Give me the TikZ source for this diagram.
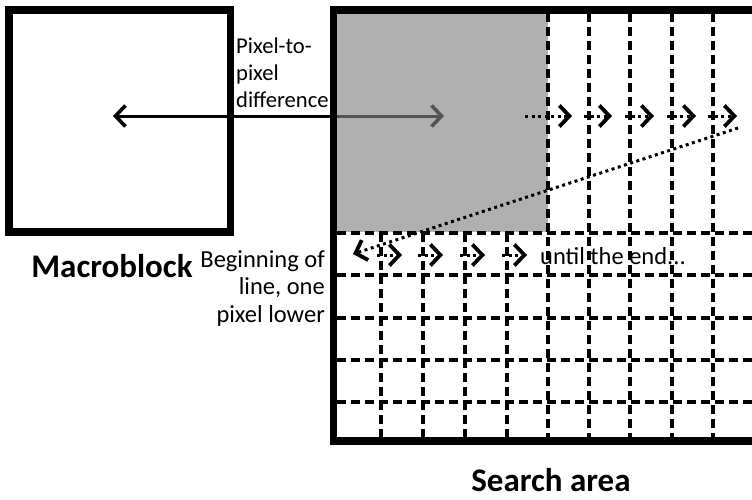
\documentclass[tikz,border=0pt]{standalone}
\usepackage{fontspec}
\setmainfont{Carlito}
\usetikzlibrary{arrows.meta}
\definecolor{greyfill}{RGB}{132,132,132}
\begin{document}
\begin{tikzpicture}[x=1pt,y=-1pt,
  thickbox/.style={line width=7.5pt},
  gridline/.style={line width=3.4pt, dash pattern=on 9pt off 5pt},
  dotline/.style={line width=3pt, dash pattern=on 3pt off 3.5pt},
  barb/.style={-{Straight Barb[length=10pt,width=21pt,line width=3.8pt]}},
  lbl/.style={font=\fontsize{24.5}{27.5}\selectfont, inner sep=0pt},
  lblsmall/.style={font=\fontsize{22.6}{26.6}\selectfont, inner sep=0pt},
  title/.style={font=\bfseries\fontsize{33}{39}\selectfont, inner sep=0pt}]
\useasboundingbox (0,0) rectangle (752,499);
% arrow end points
\coordinate (mbL) at (113,116);
\coordinate (saR) at (444,116);
% main arrow (under the shaded block)
\draw[line width=3pt, {Straight Barb[length=10pt,width=21pt,line width=3.6pt]}-{Straight Barb[length=10pt,width=21pt,line width=3.6pt]}] (mbL) -- (saR);
% shaded block
\fill[greyfill, fill opacity=0.64] (337,13) rectangle (548,232);
% grid
\begin{scope}
\clip (0,0) rectangle (752,499);
\foreach \y in {233,275,318,360,402} \draw[gridline] (337,\y) -- (760,\y);
\foreach \x in {381,423,465,507} \draw[gridline] (\x,233) -- (\x,438);
\foreach \x in {548,589,630,672,713} \draw[gridline] (\x,13) -- (\x,438);
% search area
\draw[thickbox] (770,10) -- (333.5,10) -- (333.5,441) -- (770,441);
\end{scope}
% macroblock
\draw[thickbox] (8.8,10) rectangle (230.5,232);
% row 1 dotted arrows
\coordinate (r1s1) at (525,116); \coordinate (r1e1) at (572,116);
\coordinate (r1s2) at (584,116); \coordinate (r1e2) at (612,116);
\coordinate (r1s3) at (625,116); \coordinate (r1e3) at (654,116);
\coordinate (r1s4) at (667,116); \coordinate (r1e4) at (696,116);
\coordinate (r1s5) at (708,116); \coordinate (r1e5) at (737,116);
\foreach \i in {1,...,5} \draw[dotline, barb] (r1s\i) -- (r1e\i);
% diagonal return
\coordinate (dgS) at (738,128);
\coordinate (dgE) at (353,254);
\draw[dotline, barb] (dgS) -- (dgE);
% row 2 dotted arrows
\coordinate (r2s1) at (377,255); \coordinate (r2e1) at (402,255);
\coordinate (r2s2) at (418,255); \coordinate (r2e2) at (443,255);
\coordinate (r2s3) at (460,255); \coordinate (r2e3) at (485,255);
\coordinate (r2s4) at (502,255); \coordinate (r2e4) at (527,255);
\foreach \i in {1,...,4} \draw[dotline, barb] (r2s\i) -- (r2e\i);
% labels
\node[lblsmall, anchor=base west, align=left] (ptp) at (236,107) {Pixel-to-\\pixel\\difference};
\node[lbl, anchor=base east, align=right] (bol) at (325,322) {Beginning of\\line, one\\pixel lower};
\node[lbl, anchor=base west] (ute) at (540,264) {until the end...};
\node[title, anchor=base] (mbt) at (112,277) {Macroblock};
\node[title, anchor=base] (sat) at (551,491) {Search area};
\end{tikzpicture}
\end{document}
